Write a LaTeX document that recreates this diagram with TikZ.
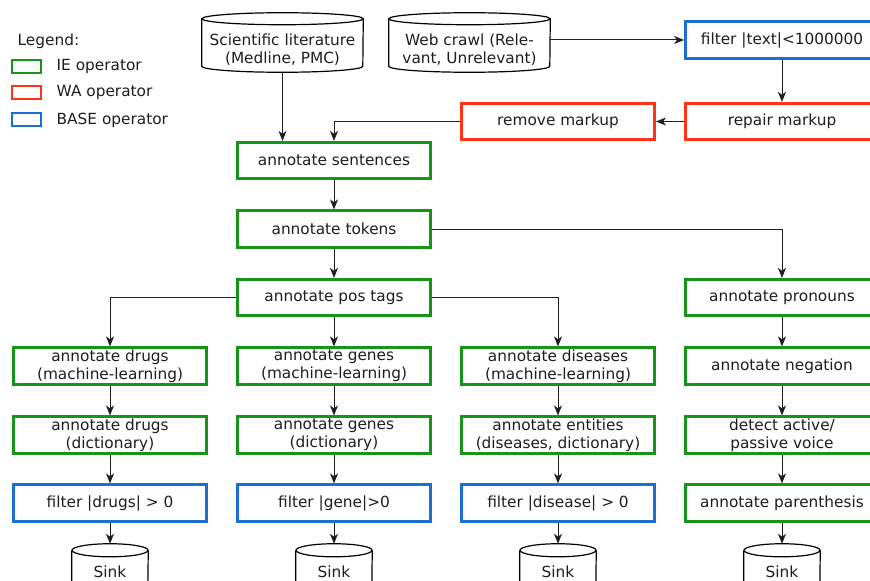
\documentclass[tikz,border=0pt]{standalone}
\usepackage{fontspec}
\setmainfont{DejaVu Sans}
\usetikzlibrary{arrows.meta,positioning}

\definecolor{iegreen}{RGB}{22,150,22}
\definecolor{wared}{RGB}{255,52,20}
\definecolor{baseblue}{RGB}{28,110,210}
\definecolor{inkgray}{RGB}{30,30,30}

% Drum (database) outline around a named node:
% #1 node, #2 half width, #3 ellipse y radius, #4 lift of the top ellipse centre above the node's north
\newcommand\drumshape[4]{%
  \draw[drumline] ([yshift=#4]#1.north west) -- ([yshift=#3]#1.south west)
    arc[start angle=180,end angle=360,x radius=#2,y radius=#3]
    -- ([yshift=#4]#1.north east);
  \draw[drumline] ([yshift=#4]#1.north) ellipse[x radius=#2,y radius=#3];}

\tikzset{
  every node/.style={font=\fontsize{11.5}{13.6}\selectfont, text=inkgray},
  opbox/.style={draw, line width=2pt, minimum width=145pt, minimum height=27.4pt,
    inner sep=0pt, align=center, fill=white},
  ie/.style={opbox, draw=iegreen},
  wa/.style={opbox, draw=wared},
  base/.style={opbox, draw=baseblue},
  legkey/.style={draw, line width=2pt, minimum width=21.75pt, minimum height=9.75pt, inner sep=0pt},
  drumnode/.style={inner sep=0pt, align=center},
  drumline/.style={draw=black, line width=0.9pt},
  conn/.style={draw=inkgray, line width=0.75pt, -{Stealth[length=7.5pt,width=6pt,inset=2.2pt]}},
}

\begin{document}
\begin{tikzpicture}[x=0.75pt,y=-0.75pt]
\useasboundingbox (0,0) rectangle (870,581);
\clip (0,0) rectangle (870,581);

% legend
\node[anchor=west] (legtitle) at (13,41) {Legend:};
\node[legkey, draw=iegreen] (legie) at (26.5,66.5) {};
\node[legkey, draw=wared] (legwa) at (26.5,92.5) {};
\node[legkey, draw=baseblue] (legbase) at (26.5,119.5) {};
\node[anchor=west] (legietext) at (52,67) {IE operator};
\node[anchor=west] (legwatext) at (52,93) {WA operator};
\node[anchor=west] (legbasetext) at (52,120) {BASE operator};

% sources
\node[drumnode, minimum width=120.75pt, minimum height=33pt] (sci) at (282.5,50)
  {Scientific literature\\(Medline, PMC)};
\drumshape{sci}{60.4pt}{4.5pt}{6.75pt}
\node[drumnode, minimum width=120.75pt, minimum height=33pt] (web) at (469.5,50)
  {Web crawl (Rele-\\vant, Unrelevant)};
\drumshape{web}{60.4pt}{4.5pt}{6.75pt}

% web branch
\node[base] (filttext) at (782,40) {filter |text|<1000000};
\node[wa] (repair) at (782,121.5) {repair markup};
\node[wa] (remove) at (558,121.5) {remove markup};

% main pipeline
\node[ie] (sent) at (334,160.5) {annotate sentences};
\node[ie] (tok) at (334,229) {annotate tokens};
\node[ie] (pos) at (334,297.5) {annotate pos tags};

% drugs
\node[ie] (drugml) at (110,366) {annotate drugs\\(machine-learning)};
\node[ie] (drugdict) at (110,435) {annotate drugs\\(dictionary)};
\node[base] (drugfilt) at (110,503) {filter |drugs| > 0};

% genes
\node[ie] (geneml) at (334,366) {annotate genes\\(machine-learning)};
\node[ie] (genedict) at (334,435) {annotate genes\\(dictionary)};
\node[base] (genefilt) at (334,503) {filter |gene|>0};

% diseases
\node[ie] (disml) at (558,366) {annotate diseases\\(machine-learning)};
\node[ie] (disdict) at (558,435) {annotate entities\\(diseases, dictionary)};
\node[base] (disfilt) at (558,503) {filter |disease| > 0};

% linguistic branch
\node[ie] (pron) at (782,297.5) {annotate pronouns};
\node[ie] (neg) at (782,366) {annotate negation};
\node[ie] (voice) at (782,435) {detect active/\\passive voice};
\node[ie] (paren) at (782,503) {annotate parenthesis};

% sinks
\foreach \nm/\cx in {sinkdrug/110, sinkgene/334, sinkdis/558, sinkling/782}{
  \node[drumnode, minimum width=57pt, minimum height=42pt] (\nm) at (\cx,572) {Sink};
  \drumshape{\nm}{28.5pt}{4.9pt}{-4.9pt}
}

% connectors
\draw[conn] (web.east |- filttext.west) -- (filttext.west);
\draw[conn] (filttext) -- (repair);
\draw[conn] (repair) -- (remove);
\draw[conn] (remove.west) -| (sent.north);
\draw[conn] (sci.south) -- (sci.south |- sent.north);
\draw[conn] (sent) -- (tok);
\draw[conn] (tok) -- (pos);
\draw[conn] (tok.east) -| (pron.north);
\draw[conn] (pos.west) -| (drugml.north);
\draw[conn] (pos.east) -| (disml.north);
\draw[conn] (pos) -- (geneml);

\draw[conn] (drugml) -- (drugdict);
\draw[conn] (drugdict) -- (drugfilt);
\draw[conn] (drugfilt) -- (sinkdrug.north);
\draw[conn] (geneml) -- (genedict);
\draw[conn] (genedict) -- (genefilt);
\draw[conn] (genefilt) -- (sinkgene.north);
\draw[conn] (disml) -- (disdict);
\draw[conn] (disdict) -- (disfilt);
\draw[conn] (disfilt) -- (sinkdis.north);
\draw[conn] (pron) -- (neg);
\draw[conn] (neg) -- (voice);
\draw[conn] (voice) -- (paren);
\draw[conn] (paren) -- (sinkling.north);
\end{tikzpicture}
\end{document}
